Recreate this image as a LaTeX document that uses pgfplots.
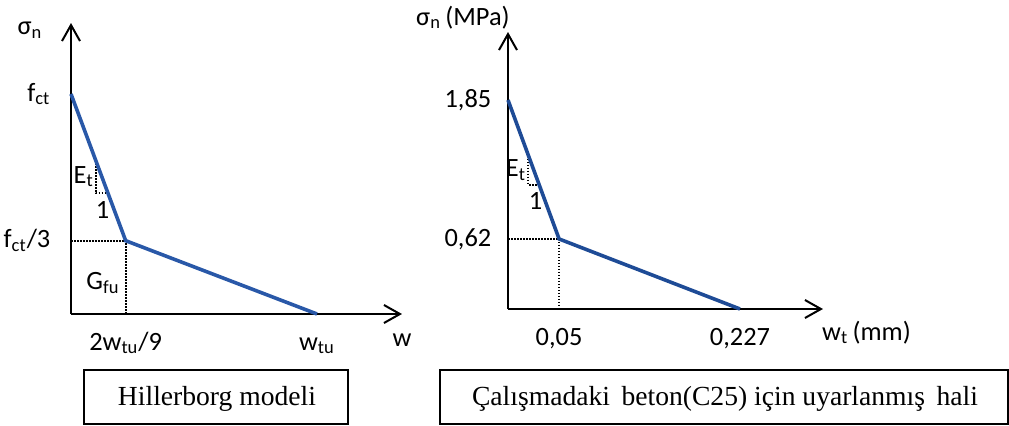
\documentclass[border=0pt]{standalone}
\usepackage{fontspec}
\setmainfont{Liberation Serif}
\newfontfamily\calib{Carlito}
\usepackage{pgfplots}
\pgfplotsset{compat=1.18}
\usetikzlibrary{arrows.meta}

\definecolor{lineblueA}{RGB}{41,88,168}
\definecolor{lineblueB}{RGB}{30,75,150}

\pgfplotsset{
  curve/.style={
    axis lines=left, scale only axis, clip=false,
    anchor=south west,
    axis line style={line width=1pt, black},
    x axis line style={-{Straight Barb[length=8pt,width=9pt]}},
    y axis line style={-{Straight Barb[length=8pt,width=9pt]}},
    tick style={draw=none},
    xmin=0, ymin=0,
    font=\calib\fontsize{13.2}{15}\selectfont,
    xticklabel style={anchor=base, inner sep=0pt, yshift=-16pt},
    yticklabel style={anchor=east, inner sep=0pt},
  },
  dots/.style={black, line width=1pt, dash pattern=on 0.8pt off 0.7pt},
}

\begin{document}
\begin{tikzpicture}
\path[use as bounding box] (0,0) rectangle (504.5pt,212.5pt);

% Hillerborg modeli (w_tu = 1, f_ct = 1)
\begin{axis}[curve,
  at={(35.5pt,55.5pt)}, width=165.5pt, height=145.5pt,
  xmax=1.3455, ymax=1.3227,
  xtick={0.2222,1}, xticklabels={{2w\textsubscript{tu}/9}, {w\textsubscript{tu}}},
  ytick={0.3333,1}, yticklabels={{f\textsubscript{ct}/3}, {f\textsubscript{ct}}},
  yticklabel style={xshift=-8pt},
  xlabel={w}, ylabel={σ\textsubscript{n}},
  every axis x label/.style={at={(axis description cs:1,0)}, anchor=base, yshift=-16pt},
  every axis y label/.style={at={(axis description cs:-0.124,0.959)}, anchor=base},
]
\addplot[dots] coordinates {(0,0.3333) (0.2222,0.3333) (0.2222,0)};
\addplot[dots] coordinates {(0.10,0.70) (0.10,0.55) (0.15,0.55)};
\addplot[lineblueA, line width=1.8pt] coordinates {(0,1) (0.2222,0.3333) (1,0)};
\node[anchor=east, inner sep=1pt] at (axis cs:0.102,0.625) {E\textsubscript{t}};
\node[anchor=north, inner sep=1pt] at (axis cs:0.128,0.52) {1};
\node at (axis cs:0.13,0.141) {G\textsubscript{fu}};
\end{axis}

% beton C25
\begin{axis}[curve,
  at={(254pt,58pt)}, width=157.5pt, height=138.5pt,
  xmax=0.3082, ymax=2.452,
  xtick={0.05,0.227}, xticklabels={{0,05}, {0,227}},
  ytick={0.62,1.85}, yticklabels={{0,62}, {1,85}},
  yticklabel style={xshift=-6pt},
  xlabel={w\textsubscript{t}\,(mm)}, ylabel={σ\textsubscript{n}\,(MPa)},
  every axis x label/.style={at={(axis description cs:0.975,0)}, anchor=base west, yshift=-15.5pt},
  every axis y label/.style={at={(axis description cs:-0.143,1.025)}, anchor=base},
]
\addplot[dots] coordinates {(0,0.62) (0.05,0.62) (0.05,0)};
\addplot[dots] coordinates {(0.02,1.358) (0.02,1.10) (0.0305,1.10)};
\addplot[lineblueB, line width=1.8pt] coordinates {(0,1.85) (0.05,0.62) (0.227,0)};
\node[anchor=east, inner sep=1pt] at (axis cs:0.02,1.23) {E\textsubscript{t}};
\node[anchor=north, inner sep=1pt] at (axis cs:0.027,1.05) {1};
\end{axis}

% caption boxes
\draw[line width=0.75pt] (42pt,0.5pt) rectangle (174pt,27.5pt);
\node[anchor=base, font=\fontsize{13.8}{16}\selectfont] at (108.5pt,10pt) {Hillerborg modeli};
\draw[line width=0.75pt] (220pt,0.5pt) rectangle (504pt,27.5pt);
\node[anchor=base, font=\fontsize{13.8}{16}\selectfont] at (362.5pt,10pt) {Çalışmadaki\, beton(C25) için uyarlanmış\, hali};
\end{tikzpicture}
\end{document}
